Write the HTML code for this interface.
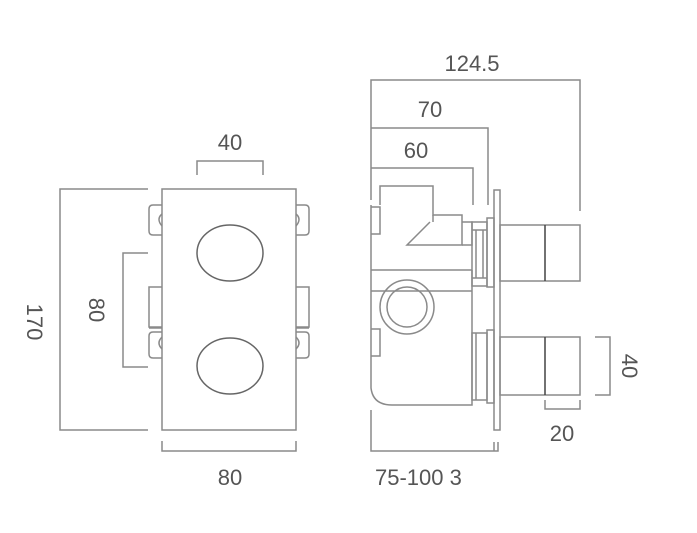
<!DOCTYPE html>
<html><head><style>
html,body{margin:0;padding:0;background:#fff;width:697px;height:533px;overflow:hidden}
svg{display:block}
text{font-family:"Liberation Sans",sans-serif;fill:#555;font-size:22px}
</style></head><body>
<svg width="697" height="533" viewBox="0 0 697 533" xmlns="http://www.w3.org/2000/svg">
<g fill="none" stroke="#8a8a8a" stroke-width="1.5">
<!-- front view -->
<rect x="162" y="189" width="134" height="241"/>
<ellipse cx="230" cy="253" rx="33" ry="28" stroke="#666"/>
<ellipse cx="230" cy="366" rx="33" ry="28" stroke="#666"/>
<!-- tabs left -->
<path d="M162 205 H153 Q149 205 149 209 V231 Q149 235 153 235 H162"/>
<path d="M162 214 Q156 219 162 226"/>
<path d="M162 287 H149 V327 H162"/>
<path d="M149 328 H162"/>
<path d="M162 332 H153 Q149 332 149 336 V354 Q149 358 153 358 H162"/>
<path d="M162 337 Q156 343 162 349"/>
<!-- tabs right -->
<path d="M296 205 H305 Q309 205 309 209 V231 Q309 235 305 235 H296"/>
<path d="M296 214 Q302 219 296 226"/>
<path d="M296 287 H309 V327 H296"/>
<path d="M309 328 H296"/>
<path d="M296 332 H305 Q309 332 309 336 V354 Q309 358 305 358 H296"/>
<path d="M296 337 Q302 343 296 349"/>
<!-- dims front -->
<path d="M148 189 H60 V430 H148"/>
<path d="M148 253 H123 V367 H148"/>
<path d="M197 175 V161 H263 V175"/>
<path d="M162 441 V451 H296 V441"/>
<!-- side view dims -->
<path d="M371 200 V80 H580 V211"/>
<path d="M371 128 H488 V205"/>
<path d="M371 168 H473 V205"/>
<path d="M371 410 V451 H498 V442"/>
<path d="M494 442 V451"/>
<path d="M595 337 H610 V395 H595"/>
<path d="M545 400 V409 H580 V400"/>
<!-- body -->
<path d="M371 205 V388 Q373 405 392 405 H472 V270"/>
<path d="M380 205 V186 H433 V215 H462 V245 H407 L430 222"/>
<path d="M433 215 V222"/>
<path d="M462 222 H472 V245 H462"/>
<path d="M371 270 H472"/>
<path d="M371 291 H472"/>
<path d="M371 207 H380 V234 H371"/>
<path d="M371 329 H380 V356 H371"/>
<circle cx="407" cy="307" r="27"/>
<circle cx="407" cy="307" r="20"/>
<!-- connectors -->
<rect x="472" y="222" width="15" height="64"/>
<path d="M472 230 H487 M472 278 H487 M476 230 V278 M483 230 V278"/>
<rect x="487" y="218" width="7" height="69"/>
<rect x="472" y="333" width="15" height="67"/>
<path d="M476 333 V400"/>
<rect x="487" y="330" width="7" height="73"/>
<rect x="494" y="190" width="6" height="240"/>
<!-- knobs -->
<rect x="500" y="225" width="80" height="56"/>
<rect x="500" y="337" width="80" height="58"/>
</g>
<path d="M545 225 V281 M545 337 V395" stroke="#444" stroke-width="1.5"/>
<text x="230" y="150" text-anchor="middle">40</text>
<text x="230" y="485" text-anchor="middle">80</text>
<text transform="translate(27,322) rotate(90)" text-anchor="middle">170</text>
<text transform="translate(89,310) rotate(90)" text-anchor="middle">80</text>
<text transform="translate(622,366) rotate(90)" text-anchor="middle">40</text>
<text x="472" y="71" text-anchor="middle">124.5</text>
<text x="430" y="117" text-anchor="middle">70</text>
<text x="416" y="158" text-anchor="middle">60</text>
<text x="562" y="441" text-anchor="middle">20</text>
<text x="375" y="485">75-100 3</text>
</svg>
</body></html>
